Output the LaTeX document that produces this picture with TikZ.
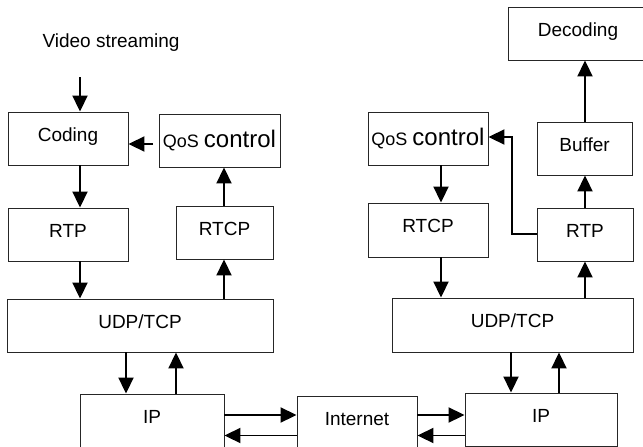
\documentclass[tikz,border=0pt]{standalone}
\usepackage{fontspec}
\setmainfont{Liberation Sans}
\usetikzlibrary{arrows.meta}
\begin{document}
\begin{tikzpicture}[x=1pt,y=-1pt,
  box/.style={draw=black!85, line width=0.9pt, inner sep=0pt, text height=14pt, text depth=9pt,
    font=\fontsize{19}{22}\selectfont},
  qbox/.style={box, text height=17.5pt, text depth=4.5pt},
  arr/.style={line width=1.9pt, -{Triangle[length=16pt,width=15pt]}}]
\useasboundingbox (0,0) rectangle (643,447);
\clip (0,0) rectangle (643,447);
% left stack
\node[anchor=center, font=\fontsize{19}{22}\selectfont] (vtxt) at (111,43) {Video streaming};
\node[box, minimum width=120pt, minimum height=53pt] (coding) at (68,138.5) {Coding};
\node[qbox, minimum width=121pt, minimum height=53pt] (qosl) at (219.5,140.5) {\fontsize{18}{20}\selectfont QoS \fontsize{24}{26}\selectfont control};
\node[box, minimum width=120pt, minimum height=53pt] (rtpl) at (68,234.5) {RTP};
\node[box, minimum width=97pt, minimum height=53pt] (rtcpl) at (224.5,232.5) {RTCP};
\node[box, minimum width=266pt, minimum height=53pt] (udpl) at (140,325.5) {UDP/TCP};
\node[box, minimum width=144pt, minimum height=53pt] (ipl) at (152,420.5) {IP};
\node[box, minimum width=120pt, minimum height=53pt] (inet) at (357,422.5) {Internet};
% right stack
\node[box, minimum width=152pt, minimum height=53pt] (ipr) at (541,419.5) {IP};
\node[box, minimum width=241pt, minimum height=54pt] (udpr) at (512.5,325) {UDP/TCP};
\node[box, minimum width=120pt, minimum height=54pt] (rtcpr) at (428,230) {RTCP};
\node[box, minimum width=96pt, minimum height=53pt] (rtpr) at (585,234.5) {RTP};
\node[qbox, minimum width=120pt, minimum height=53pt] (qosr) at (428,138.5) {\fontsize{18}{20}\selectfont QoS \fontsize{24}{26}\selectfont control};
\node[box, minimum width=95pt, minimum height=53pt] (buffer) at (584.5,148.5) {Buffer};
\node[box, minimum width=140pt, minimum height=53pt] (decoding) at (578,33.5) {Decoding};
% guide coordinates
\coordinate (xa) at (80,0);
\coordinate (xb) at (126,0);
\coordinate (xc) at (176,0);
\coordinate (xd) at (224,0);
\coordinate (xe) at (441,0);
\coordinate (xf) at (585,0);
\coordinate (xg) at (511,0);
\coordinate (xh) at (559,0);
\coordinate (xk) at (512,0);
\coordinate (xq) at (153,0);
\coordinate (ya) at (0,144);
\coordinate (yb) at (0,415);
\coordinate (yc) at (0,435.5);
\coordinate (ye) at (0,234);
\coordinate (yf) at (0,137);
\coordinate (vs) at (80,77);
% left arrows
\draw[arr] (vs) -- (coding.north -| xa);
\draw[arr] (coding.south -| xa) -- (rtpl.north -| xa);
\draw[arr] (rtpl.south -| xa) -- (udpl.north -| xa);
\draw[arr] (xq |- ya) -- (coding.east |- ya);
\draw[arr] (rtcpl.north -| xd) -- (qosl.south -| xd);
\draw[arr] (udpl.north -| xd) -- (rtcpl.south -| xd);
\draw[arr] (udpl.south -| xb) -- (ipl.north -| xb);
\draw[arr] (ipl.north -| xc) -- (udpl.south -| xc);
% internet arrows
\draw[arr] (ipl.east |- yb) -- (inet.west |- yb);
\draw[arr] (inet.west |- yc) -- (ipl.east |- yc);
\draw[arr] (inet.east |- yb) -- (ipr.west |- yb);
\draw[arr] (ipr.west |- yc) -- (inet.east |- yc);
% right arrows
\draw[arr] (udpr.south -| xg) -- (ipr.north -| xg);
\draw[arr] (ipr.north -| xh) -- (udpr.south -| xh);
\draw[arr] (udpr.north -| xf) -- (rtpr.south -| xf);
\draw[arr] (rtpr.north -| xf) -- (buffer.south -| xf);
\draw[arr] (buffer.north -| xf) -- (decoding.south -| xf);
\draw[arr] (qosr.south -| xe) -- (rtcpr.north -| xe);
\draw[arr] (rtcpr.south -| xe) -- (udpr.north -| xe);
\draw[arr] (rtpr.west |- ye) -- (xk |- ye) -- (xk |- yf) -- (qosr.east |- yf);
\end{tikzpicture}
\end{document}
